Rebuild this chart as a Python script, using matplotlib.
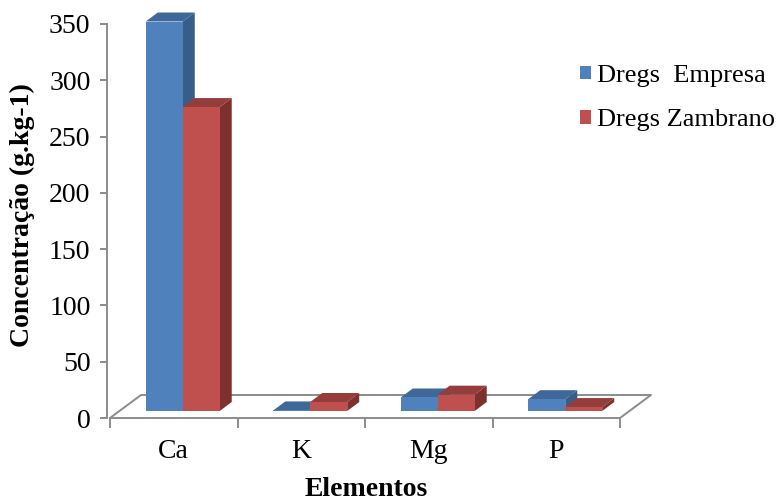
import matplotlib
matplotlib.use('Agg')
import matplotlib.pyplot as plt
from matplotlib.patches import Polygon, Patch

# data
categories = ['Ca', 'K', 'Mg', 'P']
empresa = [346, 0.5, 12, 10.5]
zambrano = [270, 8, 14.5, 3.5]
series_names = ['Dregs  Empresa', 'Dregs Zambrano']
y_ticks = [0, 50, 100, 150, 200, 250, 300, 350]

# face colours: front, top, side
blue = ('#4F81BD', '#3F6799', '#375D89')
red = ('#C0504D', '#953D3B', '#7E302E')
gray = '#8C8C8C'

plt.rcParams['font.family'] = ['Liberation Serif', 'DejaVu Serif']
plt.rcParams['font.size'] = 20

W, H = 779, 500
fig = plt.figure(figsize=(W / 100, H / 100), dpi=100)

# plot area in pixels (front plane of the floor)
left, right, bottom, top = 110, 620, 418, 24
ax = fig.add_axes([left / W, 1 - bottom / H, (right - left) / W, (bottom - top) / H])
ax.set_xlim(-0.5, len(categories) - 0.5)
ax.set_ylim(0, 350)

ux = (right - left) / len(categories)   # px per category
uy = (bottom - top) / 350.0             # px per unit


def px(dx, dy):
    return dx / ux, dy / uy


# floor outline
fx, fy = px(31, 23)
x0, x1 = -0.5, len(categories) - 0.5
ax.plot([x0, x0 + fx, x1 + fx, x1], [0, fy, fy, 0], color=gray, lw=1.4,
        clip_on=False, zorder=1)

# bars with fake 3d faces
sx, sy = px(9, 7)      # bar plane sits a bit behind the front edge
dx, dy = px(12, 9)     # bar depth
bw = 0.29


def bar3d(xl, h, cols, z):
    xr = xl + bw
    yb, yt = sy, sy + h
    front = [(xl, yb), (xr, yb), (xr, yt), (xl, yt)]
    topf = [(xl, yt), (xr, yt), (xr + dx, yt + dy), (xl + dx, yt + dy)]
    side = [(xr, yb), (xr + dx, yb + dy), (xr + dx, yt + dy), (xr, yt)]
    for pts, c in ((side, cols[2]), (topf, cols[1]), (front, cols[0])):
        ax.add_patch(Polygon(pts, closed=True, fc=c, ec='none', clip_on=False, zorder=z))


for i in range(len(categories)):
    bar3d(i - bw + sx, empresa[i], blue, 3 + 2 * i)
    bar3d(i + sx, zambrano[i], red, 4 + 2 * i)

# axes styling
for s in ['top', 'right']:
    ax.spines[s].set_visible(False)
for s in ['left', 'bottom']:
    ax.spines[s].set_color(gray)
    ax.spines[s].set_linewidth(1.4)
ax.spines['left'].set_position(('outward', 2))

ax.set_yticks(y_ticks)
ax.tick_params(axis='y', direction='out', length=5, width=1.4, color=gray, pad=7,
               labelsize=20)

ax.set_xticks([i - 0.5 for i in range(len(categories) + 1)])
ax.set_xticklabels([])
ax.set_xticks(range(len(categories)), minor=True)
ax.set_xticklabels(categories, minor=True)
ax.tick_params(axis='x', which='major', direction='out', length=7, width=1.4, color=gray)
ax.tick_params(axis='x', which='minor', length=0, pad=15, labelsize=20)
ax.patch.set_visible(False)

fig.text(22 / W, 1 - 215 / H, 'Concentração (g.kg-1)', rotation=90, ha='center',
         va='center', fontweight='bold', fontsize=20)
fig.text(366 / W, 1 - 489 / H, 'Elementos', ha='center', va='center',
         fontweight='bold', fontsize=20)

handles = [Patch(fc=blue[0]), Patch(fc=red[0])]
fig.legend(handles, series_names, loc='upper left', bbox_to_anchor=(580 / W, 1 - 65 / H),
           frameon=False, handlelength=0.42, handleheight=0.42, handletextpad=0.22,
           labelspacing=0.85, fontsize=19, borderaxespad=0, borderpad=0)

fig.savefig('out.png', dpi=100)
